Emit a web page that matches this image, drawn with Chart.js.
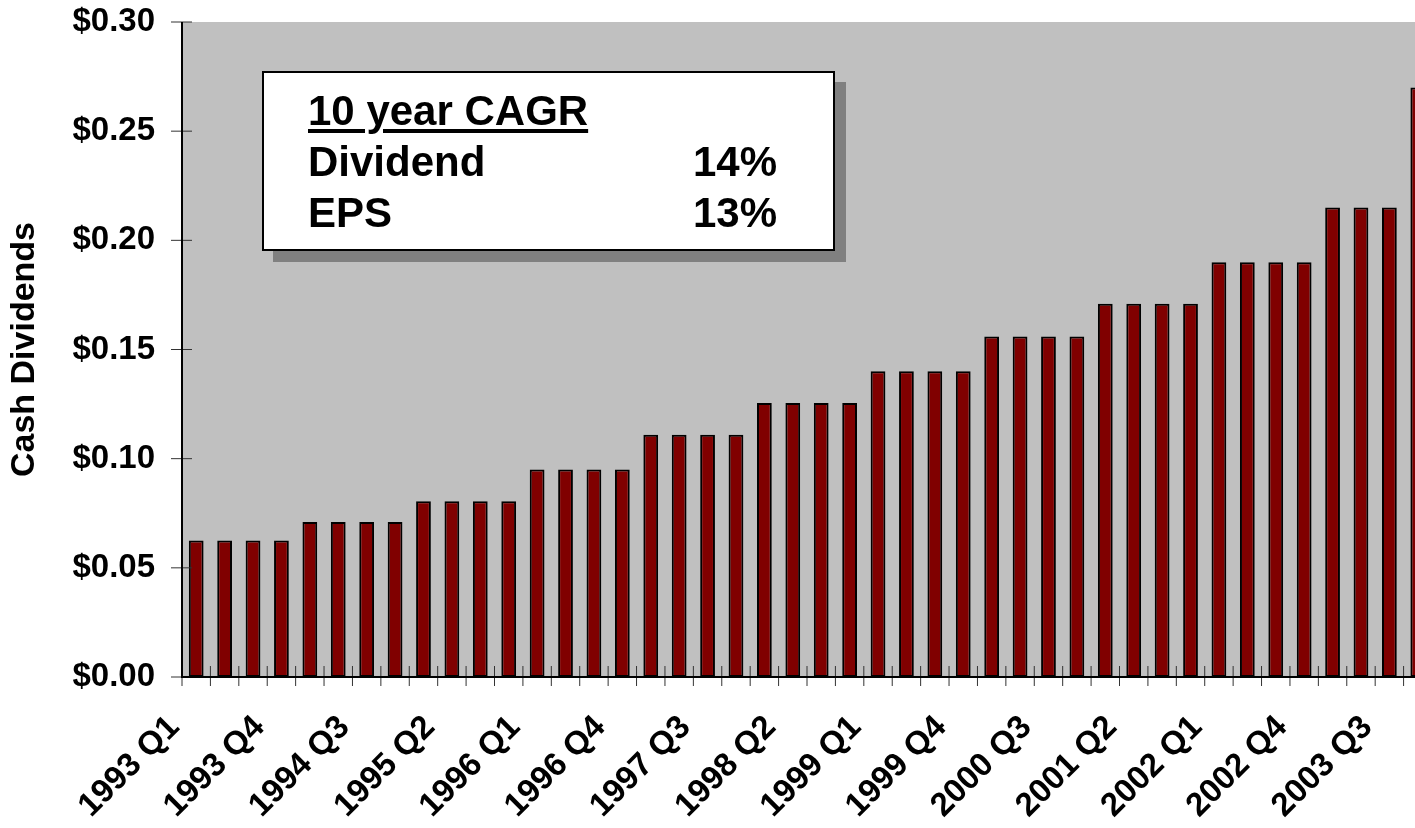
<!DOCTYPE html>
<html>
<head>
<meta charset="utf-8">
<script src="https://cdn.jsdelivr.net/npm/chart.js@4/dist/chart.umd.min.js"></script>
<style>
  html, body { margin: 0; padding: 0; background: #fff; overflow: hidden; }
  #wrap { position: relative; width: 1415px; height: 828px; overflow: hidden; }
  canvas { display: block; }
  .cagr {
    position: absolute; left: 262px; top: 71px; width: 569px; height: 176px;
    background: #fff; border: 2px solid #000; box-shadow: 11px 11px 0 #808080;
    font-family: "Liberation Sans", Arial, sans-serif; font-weight: bold; font-size: 42px;
    line-height: 51px; color: #000;
  }
  .cagr .row { position: absolute; left: 44px; width: 469px; }
  .cagr .row span.v { position: absolute; right: 0; }
  .cagr u { text-decoration-thickness: 4px; text-underline-offset: 4px; }
</style>
</head>
<body>
<div id="wrap">
  <canvas id="c" width="1440" height="828"></canvas>
  <div class="cagr">
    <div class="row" style="top:12px"><u>10 year CAGR</u></div>
    <div class="row" style="top:63px">Dividend<span class="v">14%</span></div>
    <div class="row" style="top:114px">EPS<span class="v">13%</span></div>
  </div>
</div>
<script>
const years = ['1993', '1994', '1995', '1996', '1997', '1998', '1999', '2000', '2001', '2002', '2003'];
const quarters = ['Q1', 'Q2', 'Q3', 'Q4'];
const labels = [];
years.forEach(y => quarters.forEach(q => labels.push(y + ' ' + q)));

// quarterly cash dividend per share
const dividends = [
  0.0625, 0.0625, 0.0625, 0.0625,
  0.071, 0.071, 0.071, 0.071,
  0.0805, 0.0805, 0.0805, 0.0805,
  0.095, 0.095, 0.095, 0.095,
  0.111, 0.111, 0.111, 0.111,
  0.1255, 0.1255, 0.1255, 0.1255,
  0.140, 0.140, 0.140, 0.140,
  0.156, 0.156, 0.156, 0.156,
  0.171, 0.171, 0.171, 0.171,
  0.190, 0.190, 0.190, 0.190,
  0.215, 0.215, 0.215, 0.270
];

const yTicks = [0, 0.05, 0.10, 0.15, 0.20, 0.25, 0.30];

const FONT = '"Liberation Sans", Arial, sans-serif';

// gray plot area, axis lines and tick marks that cross the axes
const plotFrame = {
    id: 'plotFrame',
    beforeDraw(chart) {
        const { ctx, chartArea: a } = chart;
        ctx.save();
        ctx.fillStyle = '#c0c0c0';
        ctx.fillRect(a.left, a.top, a.right - a.left, a.bottom - a.top);
        ctx.restore();
    },
    afterDatasetsDraw(chart) {
        const { ctx, chartArea: a, scales: { x, y } } = chart;
        ctx.save();
        ctx.strokeStyle = '#333';
        ctx.lineWidth = 1;
        ctx.beginPath();
        y.ticks.forEach((t, i) => {
            const py = y.getPixelForTick(i);
            ctx.moveTo(a.left - 11, py);
            ctx.lineTo(a.left + 10, py);
        });
        const half = (x.getPixelForValue(1) - x.getPixelForValue(0)) / 2;
        for (let i = 0; i <= labels.length; i++) {
            const px = x.getPixelForValue(i) - half;
            ctx.moveTo(px, a.bottom - 11);
            ctx.lineTo(px, a.bottom + 9);
        }
        ctx.stroke();

        ctx.strokeStyle = '#000';
        ctx.lineWidth = 2;
        ctx.beginPath();
        ctx.moveTo(a.left, a.top);
        ctx.lineTo(a.left, a.bottom);
        ctx.lineTo(a.right + 20, a.bottom);
        ctx.stroke();
        ctx.restore();
    }
};

new Chart(document.getElementById('c').getContext('2d'), {
    type: 'bar',
    data: {
        labels: labels,
        datasets: [{
            label: 'Cash Dividends',
            data: dividends,
            backgroundColor: '#800000',
            borderColor: '#000',
            borderWidth: 2,
            borderSkipped: false,
            barPercentage: 0.52,
            categoryPercentage: 1
        }]
    },
    options: {
        responsive: false,
        animation: false,
        layout: { padding: { top: 22, right: 8, left: 0, bottom: 0 } },
        plugins: { legend: { display: false }, tooltip: { enabled: false } },
        scales: {
            x: {
                offset: true,
                border: { display: false },
                grid: { display: false, drawTicks: false },
                afterFit(s) {
                    s.height = 151;
                    s.paddingLeft = 0;
                    s.paddingRight = 0;
                },
                ticks: {
                    autoSkip: false,
                    minRotation: 45,
                    maxRotation: 45,
                    padding: 31,
                    labelOffset: -22,
                    color: '#000',
                    font: { family: FONT, size: 33, weight: 'bold' },
                    callback(v, i) { return i % 3 === 0 ? labels[i] : ''; }
                }
            },
            y: {
                min: 0,
                max: 0.30,
                border: { display: false },
                grid: { display: false, drawTicks: false },
                afterFit(s) {
                    s.width = 182;
                    s.paddingTop = 0;
                    s.paddingBottom = 0;
                },
                afterBuildTicks(s) { s.ticks = yTicks.map(v => ({ value: v })); },
                title: {
                    display: true,
                    text: 'Cash Dividends',
                    color: '#000',
                    padding: { top: 4, bottom: 0 },
                    font: { family: FONT, size: 34, weight: 'bold' }
                },
                ticks: {
                    padding: 27,
                    color: '#000',
                    font: { family: FONT, size: 33, weight: 'bold' },
                    callback(v) { return '$' + v.toFixed(2); }
                }
            }
        }
    },
    plugins: [plotFrame]
});
</script>
</body>
</html>
